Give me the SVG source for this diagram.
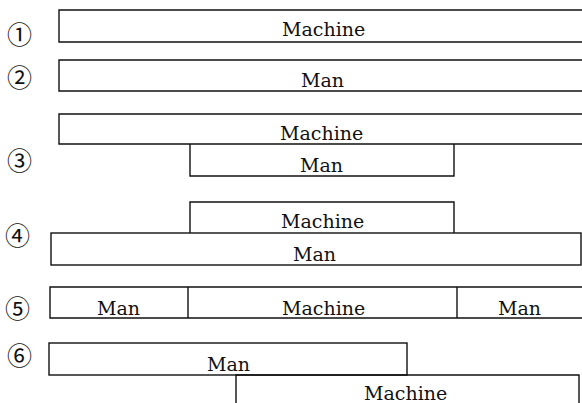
<svg xmlns="http://www.w3.org/2000/svg" width="582" height="403" viewBox="0 0 582 403">
<style>
.b{fill:none;stroke:#111;stroke-width:1.4}
.t{font-family:"DejaVu Serif","Liberation Serif",serif;font-size:19px;fill:#111}
.n{font-family:"Noto Sans CJK JP","DejaVu Serif",serif;font-size:25px;fill:#111}
</style>
<rect width="582" height="403" fill="#fff"/>
<g id="labels">
<text class="n" x="7" y="44">①</text>
<text class="n" x="7" y="87">②</text>
<text class="n" x="7" y="170">③</text>
<text class="n" x="5" y="245">④</text>
<text class="n" x="5" y="318">⑤</text>
<text class="n" x="7" y="365">⑥</text>
</g>
<g id="row1">
<path class="b" d="M582,10 H59 V42 H582"/>
<text class="t" x="282" y="36">Machine</text>
</g>
<g id="row2">
<path class="b" d="M582,60 H59 V91 H582"/>
<text class="t" x="301" y="87">Man</text>
</g>
<g id="row3-machine">
<path class="b" d="M582,114 H59 V144 H582"/>
<text class="t" x="280" y="140">Machine</text>
</g>
<g id="row3-man">
<path class="b" d="M190,144 V176 H454 V144"/>
<text class="t" x="300" y="172">Man</text>
</g>
<g id="row4-machine">
<path class="b" d="M190,233 V202 H454 V233"/>
<text class="t" x="281" y="228">Machine</text>
</g>
<g id="row4-man">
<rect class="b" x="51" y="233" width="530" height="32"/>
<text class="t" x="293" y="261">Man</text>
</g>
<g id="row5">
<path class="b" d="M582,287 H50 V318 H582 M188,287 V318 M457,287 V318"/>
<text class="t" x="97" y="315">Man</text>
<text class="t" x="282" y="315">Machine</text>
<text class="t" x="498" y="315">Man</text>
</g>
<g id="row6-man">
<rect class="b" x="49" y="343" width="358" height="32"/>
<text class="t" x="207" y="371">Man</text>
</g>
<g id="row6-machine">
<path class="b" d="M236,403 V375 H579 V403"/>
<text class="t" x="364" y="400">Machine</text>
</g>
<g id="connectors"></g>
</svg>
